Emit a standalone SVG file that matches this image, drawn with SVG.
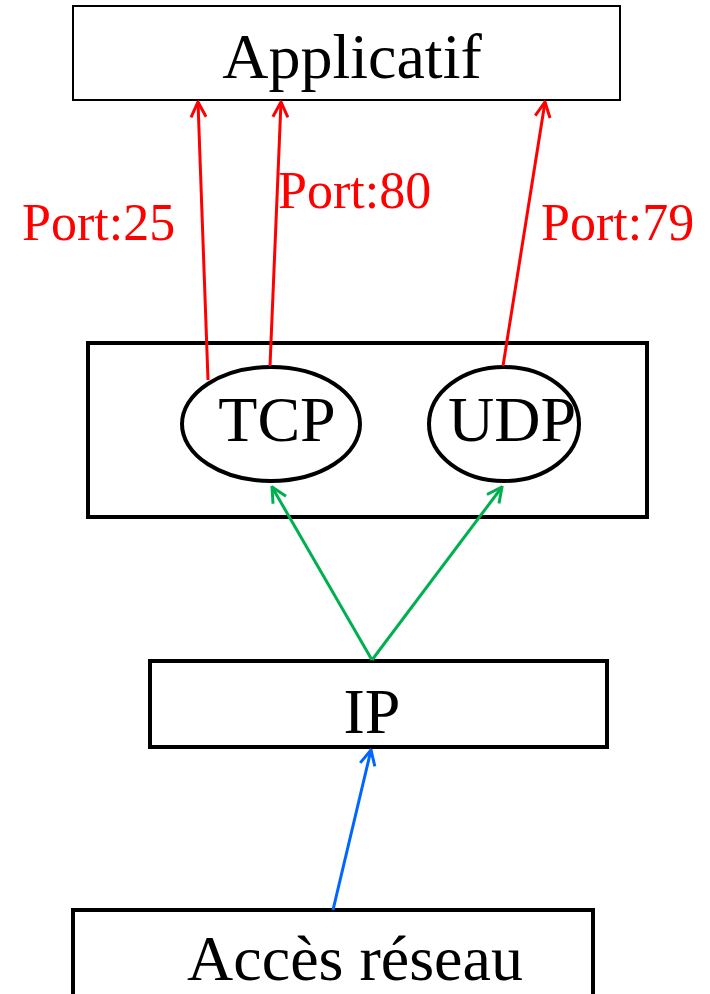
<svg xmlns="http://www.w3.org/2000/svg" width="710" height="994" viewBox="0 0 710 994">
  <style>
    .box { fill: #ffffff; stroke: #000000; stroke-width: 4; }
    .thin { stroke-width: 2; }
    .lbl { font-family: "Liberation Serif", "Times New Roman", serif; font-size: 64px; fill: #000000; text-anchor: middle; }
    .port { font-family: "Liberation Serif", "Times New Roman", serif; font-size: 52px; fill: #ff0000; }
    .red { stroke: #ff0000; stroke-width: 3; fill: none; }
    .green { stroke: #00b050; stroke-width: 3; fill: none; }
    .blue { stroke: #0066ff; stroke-width: 3; fill: none; }
  </style>
  <defs>
    <marker id="headRed" viewBox="0 0 12 12" refX="11" refY="6" markerWidth="6" markerHeight="6" markerUnits="strokeWidth" orient="auto">
      <path d="M1,1 L11,6 L1,11" fill="none" stroke="#ff0000" stroke-width="2"/>
    </marker>
    <marker id="headGreen" viewBox="0 0 12 12" refX="11" refY="6" markerWidth="6" markerHeight="6" markerUnits="strokeWidth" orient="auto">
      <path d="M1,1 L11,6 L1,11" fill="none" stroke="#00b050" stroke-width="2"/>
    </marker>
    <marker id="headBlue" viewBox="0 0 12 12" refX="11" refY="6" markerWidth="6" markerHeight="6" markerUnits="strokeWidth" orient="auto">
      <path d="M1,1 L11,6 L1,11" fill="none" stroke="#0066ff" stroke-width="2"/>
    </marker>
  </defs>

  <g id="applicatif">
    <rect class="box thin" x="73" y="6" width="547" height="94"/>
    <text class="lbl" x="352" y="78">Applicatif</text>
  </g>

  <g id="transport">
    <rect class="box" x="88" y="343" width="559" height="174"/>
  </g>

  <g id="tcp">
    <ellipse class="box" cx="271" cy="424" rx="89" ry="57"/>
    <text class="lbl" x="277" y="441">TCP</text>
  </g>

  <g id="udp">
    <ellipse class="box" cx="504" cy="424" rx="75" ry="57"/>
    <text class="lbl" x="512" y="441">UDP</text>
  </g>

  <g id="ip">
    <rect class="box" x="150" y="661" width="457" height="86"/>
    <text class="lbl" x="372" y="733">IP</text>
  </g>

  <g id="acces-reseau">
    <rect class="box" x="73" y="910" width="520" height="100"/>
    <text class="lbl" x="355" y="980">Accès réseau</text>
  </g>

  <g id="connectors">
    <line class="red" x1="208" y1="380" x2="198" y2="102" marker-end="url(#headRed)"/>
    <line class="red" x1="270" y1="366" x2="281" y2="102" marker-end="url(#headRed)"/>
    <line class="red" x1="503" y1="366" x2="545" y2="102" marker-end="url(#headRed)"/>
    <line class="green" x1="372" y1="660" x2="272" y2="487" marker-end="url(#headGreen)"/>
    <line class="green" x1="372" y1="660" x2="502" y2="487" marker-end="url(#headGreen)"/>
    <line class="blue" x1="333" y1="910" x2="371" y2="750" marker-end="url(#headBlue)"/>
    <text class="port" x="22" y="240">Port:25</text>
    <text class="port" x="278" y="208">Port:80</text>
    <text class="port" x="541" y="240">Port:79</text>
  </g>
</svg>
